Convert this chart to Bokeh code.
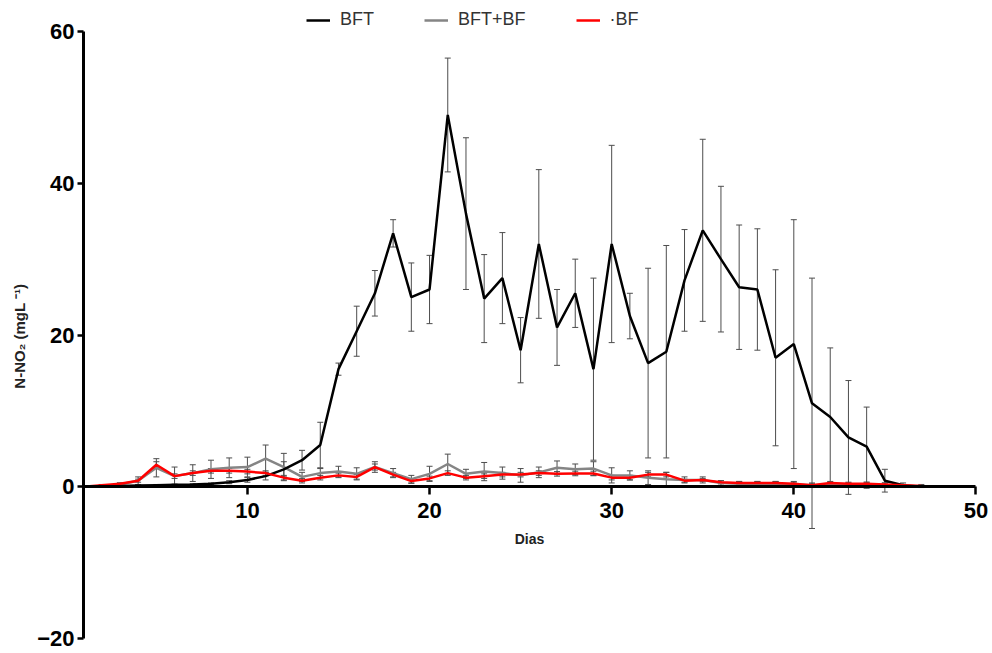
from bokeh.plotting import figure
from bokeh.models import ColumnDataSource, Whisker, TeeHead, Legend, LegendItem, Range1d, FixedTicker
from bokeh.embed import file_html
from bokeh.resources import INLINE

# Daily N-NO2 concentration (mg/L) for the three treatments, mean and error
days = list(range(1, 48))

bft = [0, 0.05, 0.1, 0.15, 0.2, 0.25, 0.3, 0.4, 0.6, 0.9, 1.4, 2.3, 3.5, 5.5,
       15.5, 20.5, 25.5, 33.4, 25.0, 26.0, 49.0, 36.0, 24.8, 27.5, 18.0, 32.0,
       21.0, 25.5, 15.5, 32.0, 22.5, 16.3, 17.8, 27.2, 33.8, 30.0, 26.3, 26.0,
       17.0, 18.8, 11.0, 9.2, 6.5, 5.3, 0.8, 0.2, 0.0]
bft_err = [0, 0.05, 0.1, 0.1, 0.1, 0.1, 0.1, 0.1, 0.2, 0.3, 0.5, 1.0, 1.3, 3.0,
           0.8, 3.3, 3.0, 1.8, 4.5, 4.5, 7.5, 10.0, 5.8, 6.0, 4.3, 9.8,
           5.0, 4.5, 12.0, 13.0, 3.0, 12.5, 14.0, 6.7, 12.0, 9.6, 8.2, 8.0,
           11.6, 16.4, 16.5, 9.1, 7.5, 5.2, 1.5, 0.3, 0.1]

bft_bf = [0, 0.1, 0.3, 0.8, 2.5, 1.4, 1.8, 2.3, 2.5, 2.6, 3.7, 2.6, 1.3, 1.8,
          2.0, 1.7, 2.6, 1.8, 1.0, 1.7, 3.0, 1.7, 2.0, 1.8, 1.5, 1.9,
          2.5, 2.3, 2.4, 1.5, 1.5, 1.2, 1.0, 0.9, 0.9, 0.5, 0.4, 0.4,
          0.4, 0.3, 0.2, 0.3, 0.2, 0.2, 0.2, 0.1, 0.1]
bft_bf_err = [0, 0.1, 0.2, 0.5, 1.2, 1.2, 1.1, 1.2, 1.3, 1.3, 1.8, 1.8, 0.6, 0.6,
              0.7, 0.8, 0.7, 0.6, 0.5, 1.0, 1.3, 0.6, 1.2, 0.8, 0.9, 0.7,
              0.9, 0.7, 0.9, 1.0, 0.6, 0.9, 0.9, 0.4, 0.4, 0.3, 0.3, 0.3,
              0.3, 0.4, 0.3, 0.3, 0.3, 0.4, 0.3, 0.2, 0.2]

bf = [0, 0.2, 0.4, 0.8, 2.9, 1.4, 1.8, 2.1, 2.1, 2.0, 1.8, 1.2, 0.8, 1.2,
      1.5, 1.3, 2.6, 1.6, 0.75, 1.1, 1.8, 1.2, 1.4, 1.6, 1.6, 1.8,
      1.7, 1.75, 1.75, 1.2, 1.2, 1.6, 1.6, 0.8, 0.9, 0.6, 0.5, 0.5,
      0.5, 0.4, 0.2, 0.5, 0.4, 0.4, 0.3, 0.2, 0.1]
bf_err = [0, 0.1, 0.1, 0.2, 0.4, 0.3, 0.3, 0.3, 0.3, 0.3, 0.3, 0.3, 0.3, 0.3,
          0.3, 0.3, 0.4, 0.3, 0.3, 0.3, 0.3, 0.3, 0.3, 0.3, 0.3, 0.3,
          0.3, 0.3, 0.3, 0.3, 0.3, 0.3, 0.3, 0.2, 0.2, 0.2, 0.2, 0.2,
          0.2, 0.2, 0.2, 0.2, 0.2, 0.2, 0.2, 0.1, 0.1]

series_names = ["BFT", "BFT+BF", "·BF"]
x_ticks = [10, 20, 30, 40, 50]
y_ticks = [-20, 0, 20, 40, 60]

# Ranges run a little past the last ticks (50 and 60) to leave room for the
# last x label and for the legend strip; the axis lines are bounded to the data
p = figure(width=992, height=653, output_backend="svg", toolbar_location=None,
           x_range=Range1d(1, 50.8), y_range=Range1d(-20, 64.09),
           min_border_left=83, min_border_right=2, min_border_top=0,
           min_border_bottom=15)
p.outline_line_color = None
p.grid.visible = False
p.background_fill_color = "white"
p.border_fill_color = "white"


def make_source(vals, errs):
    return ColumnDataSource(dict(
        x=days, y=vals,
        upper=[v + e for v, e in zip(vals, errs)],
        lower=[v - e for v, e in zip(vals, errs)],
    ))


src_bft = make_source(bft, bft_err)
src_bftbf = make_source(bft_bf, bft_bf_err)
src_bf = make_source(bf, bf_err)

for src in (src_bft, src_bftbf, src_bf):
    col = "#4d4d4d"
    w = Whisker(base="x", upper="upper", lower="lower", source=src,
                line_color=col, line_width=1,
                upper_head=TeeHead(size=6, line_color=col, line_width=1),
                lower_head=TeeHead(size=6, line_color=col, line_width=1))
    p.add_layout(w)

r_gray = p.line("x", "y", source=src_bftbf, line_color="#858585", line_width=2.5)
r_black = p.line("x", "y", source=src_bft, line_color="black", line_width=2.5)
r_red = p.line("x", "y", source=src_bf, line_color="#ff0000", line_width=2.5)

# axes
xa = p.xaxis[0]
xa.fixed_location = 0
xa.bounds = (1, 50)
xa.ticker = FixedTicker(ticks=x_ticks)
xa.axis_label = "Dias"
ya = p.yaxis[0]
ya.bounds = (-20, 60)
ya.ticker = FixedTicker(ticks=y_ticks)
# trailing no-break spaces nudge the rotated title toward the middle of the axis line
ya.axis_label = "N-NO₂ (mgL ⁻¹)" + "\u00a0" * 8

for ax in (xa, ya):
    ax.axis_line_width = 3
    ax.axis_line_color = "black"
    ax.major_tick_line_width = 2.5
    ax.major_tick_line_color = "black"
    ax.major_tick_in = 0
    ax.minor_tick_line_color = None
    ax.major_label_text_font = "Liberation Sans"
    ax.major_label_text_font_style = "bold"
    ax.major_label_text_font_size = "22px"
    ax.major_label_text_color = "black"
    ax.axis_label_text_font = "Liberation Sans"
    ax.axis_label_text_font_style = "bold"
    ax.axis_label_text_color = "#222222"

xa.axis_label_text_font_size = "14px"
ya.axis_label_text_font_size = "15px"
xa.major_tick_out = 8
xa.major_label_standoff = 8
xa.axis_label_standoff = 10
ya.major_tick_out = 6
ya.major_label_standoff = 3
ya.axis_label_standoff = 6

# horizontal legend in the strip above the 60 line
legend = Legend(items=[
    LegendItem(label=series_names[0], renderers=[r_black]),
    LegendItem(label=series_names[1], renderers=[r_gray]),
    LegendItem(label=series_names[2], renderers=[r_red]),
], orientation="horizontal", location=(223, 608),
    border_line_color=None, background_fill_alpha=0,
    label_text_font="Liberation Sans", label_text_font_size="18px",
    label_text_color="#333333", glyph_width=24, label_standoff=10,
    label_height=20, glyph_height=20,
    spacing=50, padding=2, margin=0)
p.add_layout(legend)

open("out.html", "w").write(file_html(p, INLINE))
